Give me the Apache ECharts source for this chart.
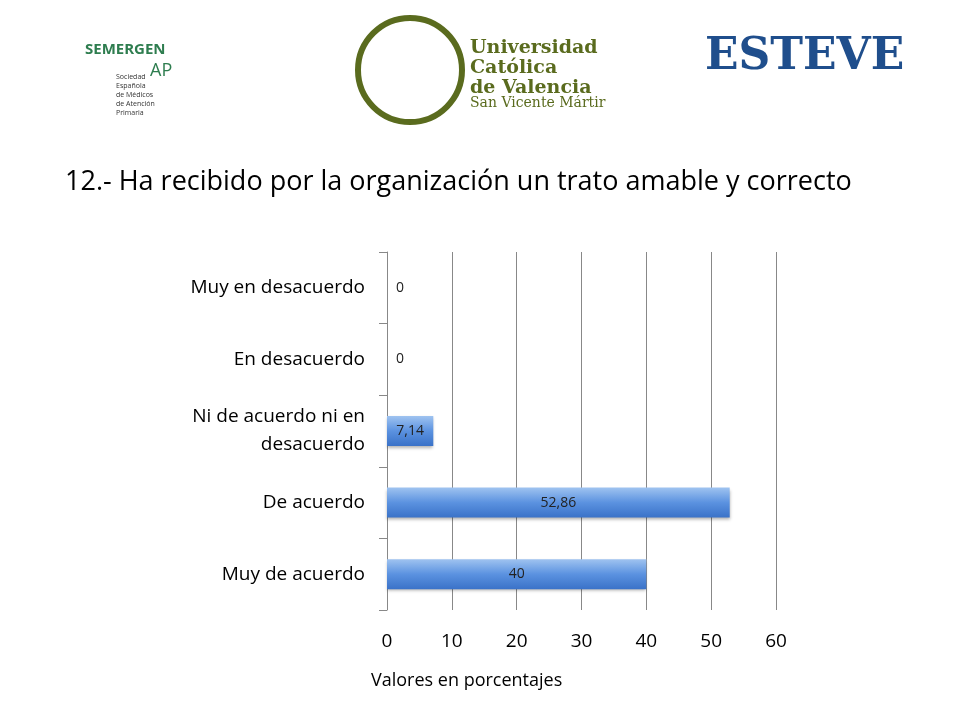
<!DOCTYPE html>
<html><head><meta charset="utf-8">
<script src="https://cdn.jsdelivr.net/npm/echarts@6/dist/echarts.min.js"></script>
<style>html,body{margin:0;padding:0;background:#fff}#c{width:960px;height:720px}</style>
</head><body><div id="c"></div>
<script>
const categories = ['Muy de acuerdo','De acuerdo','Ni de acuerdo ni en\ndesacuerdo','En desacuerdo','Muy en desacuerdo'];
const values = [40, 52.86, 7.14, 0, 0];
const valueTicks = [0,10,20,30,40,50,60];
const chart = echarts.init(document.getElementById('c'));
const F = '"Open Sans", "Liberation Sans", sans-serif';
chart.setOption({
  animation:false,
  title:{text:'12.- Ha recibido por la organización un trato amable y correcto',left:60,top:164,
    textStyle:{fontFamily:F,fontSize:27,fontWeight:'normal',color:'#000'}},
  graphic:[
    {type:'text',left:85,top:42,style:{text:'SEMERGEN',font:'bold 15px '+F,fill:'#2e7d4f'}},
    {type:'text',left:150,top:62,style:{text:'AP',font:'18px '+F,fill:'#2e7d4f'}},
    {type:'text',left:116,top:72,style:{text:'Sociedad\nEspañola\nde Médicos\nde Atención\nPrimaria',font:'7px '+F,fill:'#333',lineHeight:9}},
    {type:'circle',shape:{cx:410,cy:70,r:52},style:{fill:'none',stroke:'#5a6b1e',lineWidth:6}},
    {type:'text',left:470,top:38,style:{text:'Universidad\nCatólica\nde Valencia',font:'bold 19px "DejaVu Serif", serif',fill:'#5a6b1e',lineHeight:20}},
    {type:'text',left:470,top:96,style:{text:'San Vicente Mártir',font:'14px "DejaVu Serif", serif',fill:'#5a6b1e'}},
    {type:'text',left:705,top:36,style:{text:'ESTEVE',font:'bold 44px "DejaVu Serif", serif',fill:'#1f4e8c'}},
    {type:'text',left:371,top:672,style:{text:'Valores en porcentajes',font:'18px '+F,fill:'#000'}}
  ],
  grid:{left:387,top:252,width:389,height:358,containLabel:false},
  xAxis:{type:'value',min:0,max:60,interval:10,
    axisLine:{show:false},axisTick:{show:false},
    axisLabel:{fontFamily:F,fontSize:19,color:'#000',margin:22,formatter:v=>valueTicks.includes(v)?String(v):''},
    splitLine:{lineStyle:{color:'#888',width:1}}},
  yAxis:{type:'category',data:categories,
    axisLine:{lineStyle:{color:'#888'}},
    axisTick:{show:true,length:8,lineStyle:{color:'#888'}},
    axisLabel:{fontFamily:F,fontSize:19,color:'#000',margin:22,lineHeight:28,align:'right'}},
  series:[{type:'bar',barWidth:30,
    data:values.map(v=>v===0?{value:0,label:{position:'right',offset:[4,0]}}:v),
    itemStyle:{color:new echarts.graphic.LinearGradient(0,0,0,1,[{offset:0,color:'#9fc3f0'},{offset:0.5,color:'#5b92e0'},{offset:1,color:'#3a72c8'}]),
      shadowColor:'rgba(0,0,0,0.3)',shadowBlur:3,shadowOffsetY:2},
    label:{show:true,position:'inside',fontFamily:F,fontSize:14,color:'#222',
      formatter:p=>String(p.value).replace('.',',')}}]
});
</script></body></html>
